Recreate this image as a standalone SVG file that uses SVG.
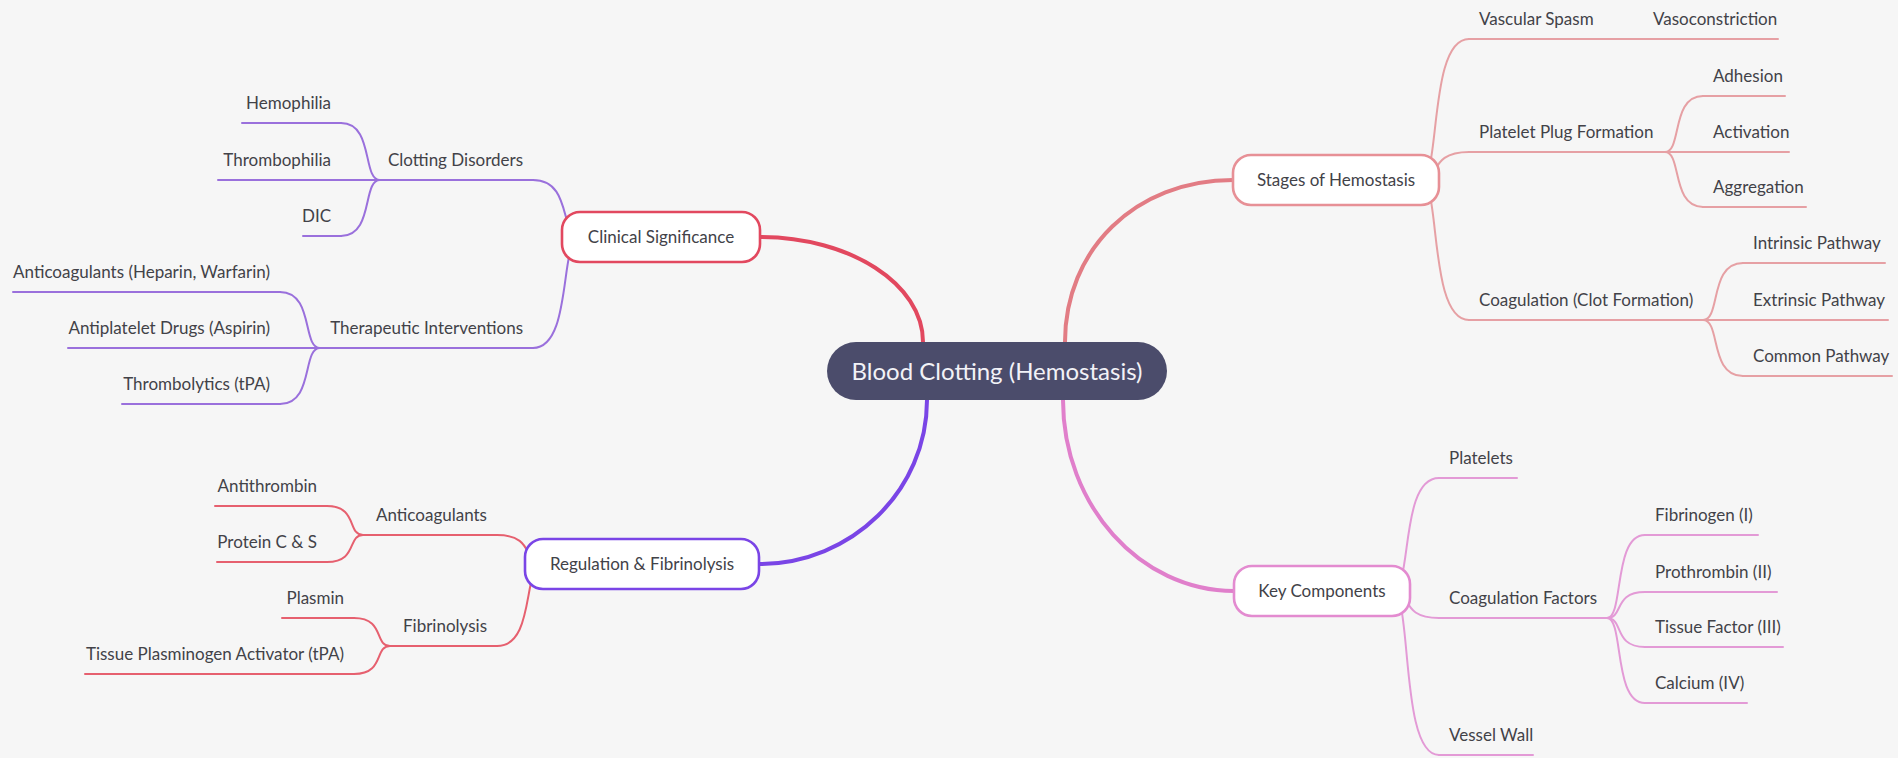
<svg xmlns="http://www.w3.org/2000/svg" width="1898" height="758" viewBox="0 0 1898 758">
<style>
.bg{fill:#f6f6f6}
.t{font-family:Lato,"Liberation Sans",sans-serif;font-size:17px;fill:#424248}
.e{text-anchor:end}
.m{text-anchor:middle}
.root{font-family:Lato,"Liberation Sans",sans-serif;font-size:24px;fill:#f2f2f7;text-anchor:middle}
.ln{fill:none;stroke-width:2;stroke-linecap:round}
.main{fill:none;stroke-width:4;stroke-linecap:round}
.box{fill:#ffffff;stroke-width:2.6}
.cs{stroke:#9a70dc}
.rf{stroke:#e6606f}
.sh{stroke:#e6a0a4}
.kc{stroke:#e39ad6}
</style>
<rect class="bg" x="0" y="0" width="1898" height="758"/>

<g id="connectors">
  <!-- root links -->
  <path class="main" stroke="#e2485f" d="M923,342 C923,284 850,237 760,237"/>
  <path class="main" stroke="#e27c84" d="M1065,342 C1065,250 1135,180 1233,180"/>
  <path class="main" stroke="#7a45e6" d="M927,400 C927,490 852,564 759,564"/>
  <path class="main" stroke="#e07fcb" d="M1063,400 C1063,505 1140,591 1234,591"/>
  <!-- Stages of Hemostasis -->
  <path class="ln sh" d="M1421,180 C1441,180 1428,39 1469,39"/>
  <path class="ln sh" d="M1421,180 C1441,180 1428,152 1469,152"/>
  <path class="ln sh" d="M1421,180 C1441,180 1428,320 1469,320"/>
  <path class="ln sh" d="M1603,39 H1643"/>
  <path class="ln sh" d="M1665,152 C1682,152 1671,96 1703,96"/>
  <path class="ln sh" d="M1665,152 H1703"/>
  <path class="ln sh" d="M1665,152 C1682,152 1671,207 1703,207"/>
  <path class="ln sh" d="M1703,320 C1721,320 1709,263 1743,263"/>
  <path class="ln sh" d="M1703,320 H1743"/>
  <path class="ln sh" d="M1703,320 C1721,320 1709,376 1743,376"/>
  <!-- Key Components -->
  <path class="ln kc" d="M1392,591 C1413,591 1399,478 1439,478"/>
  <path class="ln kc" d="M1392,591 C1413,591 1399,618 1439,618"/>
  <path class="ln kc" d="M1392,591 C1413,591 1399,755 1439,755"/>
  <path class="ln kc" d="M1607,618 C1624,618 1613,535 1645,535"/>
  <path class="ln kc" d="M1607,618 C1624,618 1613,592 1645,592"/>
  <path class="ln kc" d="M1607,618 C1624,618 1613,647 1645,647"/>
  <path class="ln kc" d="M1607,618 C1624,618 1613,703 1645,703"/>
  <!-- Clinical Significance -->
  <path class="ln cs" d="M580,237 C559,237 573,180 533,180"/>
  <path class="ln cs" d="M580,237 C559,237 573,348 533,348"/>
  <path class="ln cs" d="M380,180 C362,180 374,123 341,123"/>
  <path class="ln cs" d="M380,180 H341"/>
  <path class="ln cs" d="M380,180 C362,180 374,236 341,236"/>
  <path class="ln cs" d="M320,348 C302,348 314,292 280,292"/>
  <path class="ln cs" d="M320,348 H280"/>
  <path class="ln cs" d="M320,348 C302,348 314,404 280,404"/>
  <!-- Regulation & Fibrinolysis -->
  <path class="ln rf" d="M543,564 C522,564 536,535 497,535"/>
  <path class="ln rf" d="M543,564 C522,564 536,646 497,646"/>
  <path class="ln rf" d="M363,535 C347,535 358,506 327,506"/>
  <path class="ln rf" d="M363,535 C347,535 358,562 327,562"/>
  <path class="ln rf" d="M390,646 C374,646 385,618 354,618"/>
  <path class="ln rf" d="M390,646 C374,646 385,674 354,674"/>
</g>

<g id="root">
  <rect x="827" y="342" width="340" height="58" rx="29" fill="#4b4c6b"/>
  <text class="root" x="997" y="380">Blood Clotting (Hemostasis)</text>
</g>

<g id="stages">
  <rect class="box" stroke="#e79096" x="1233" y="155" width="206" height="50" rx="18"/>
  <text class="t m" x="1336" y="186">Stages of Hemostasis</text>
</g>
<g id="vascular-spasm">
  <path class="ln sh" d="M1469,39 H1603"/>
  <text class="t" x="1479" y="25">Vascular Spasm</text>
</g>
<g id="vasoconstriction">
  <path class="ln sh" d="M1643,39 H1778"/>
  <text class="t" x="1653" y="25">Vasoconstriction</text>
</g>
<g id="platelet-plug">
  <path class="ln sh" d="M1469,152 H1665"/>
  <text class="t" x="1479" y="138">Platelet Plug Formation</text>
</g>
<g id="adhesion">
  <path class="ln sh" d="M1703,96 H1785"/>
  <text class="t" x="1713" y="82">Adhesion</text>
</g>
<g id="activation">
  <path class="ln sh" d="M1703,152 H1789"/>
  <text class="t" x="1713" y="138">Activation</text>
</g>
<g id="aggregation">
  <path class="ln sh" d="M1703,207 H1806"/>
  <text class="t" x="1713" y="193">Aggregation</text>
</g>
<g id="coagulation">
  <path class="ln sh" d="M1469,320 H1703"/>
  <text class="t" x="1479" y="306">Coagulation (Clot Formation)</text>
</g>
<g id="intrinsic">
  <path class="ln sh" d="M1743,263 H1885"/>
  <text class="t" x="1753" y="249">Intrinsic Pathway</text>
</g>
<g id="extrinsic">
  <path class="ln sh" d="M1743,320 H1888"/>
  <text class="t" x="1753" y="306">Extrinsic Pathway</text>
</g>
<g id="common">
  <path class="ln sh" d="M1743,376 H1892"/>
  <text class="t" x="1753" y="362">Common Pathway</text>
</g>

<g id="key-components">
  <rect class="box" stroke="#e38bd0" x="1234" y="566" width="176" height="50" rx="18"/>
  <text class="t m" x="1322" y="597">Key Components</text>
</g>
<g id="platelets">
  <path class="ln kc" d="M1439,478 H1517"/>
  <text class="t" x="1449" y="464">Platelets</text>
</g>
<g id="coagulation-factors">
  <path class="ln kc" d="M1439,618 H1607"/>
  <text class="t" x="1449" y="604">Coagulation Factors</text>
</g>
<g id="fibrinogen">
  <path class="ln kc" d="M1645,535 H1758"/>
  <text class="t" x="1655" y="521">Fibrinogen (I)</text>
</g>
<g id="prothrombin">
  <path class="ln kc" d="M1645,592 H1777"/>
  <text class="t" x="1655" y="578">Prothrombin (II)</text>
</g>
<g id="tissue-factor">
  <path class="ln kc" d="M1645,647 H1783"/>
  <text class="t" x="1655" y="633">Tissue Factor (III)</text>
</g>
<g id="calcium">
  <path class="ln kc" d="M1645,703 H1747"/>
  <text class="t" x="1655" y="689">Calcium (IV)</text>
</g>
<g id="vessel-wall">
  <path class="ln kc" d="M1439,755 H1533"/>
  <text class="t" x="1449" y="741">Vessel Wall</text>
</g>

<g id="clinical">
  <rect class="box" stroke="#e2485f" x="562" y="212" width="198" height="50" rx="18"/>
  <text class="t m" x="661" y="243">Clinical Significance</text>
</g>
<g id="clotting-disorders">
  <path class="ln cs" d="M380,180 H533"/>
  <text class="t e" x="523" y="166">Clotting Disorders</text>
</g>
<g id="hemophilia">
  <path class="ln cs" d="M242,123 H341"/>
  <text class="t e" x="331" y="109">Hemophilia</text>
</g>
<g id="thrombophilia">
  <path class="ln cs" d="M218,180 H341"/>
  <text class="t e" x="331" y="166">Thrombophilia</text>
</g>
<g id="dic">
  <path class="ln cs" d="M303,236 H341"/>
  <text class="t e" x="331" y="222">DIC</text>
</g>
<g id="therapeutic">
  <path class="ln cs" d="M320,348 H533"/>
  <text class="t e" x="523" y="334">Therapeutic Interventions</text>
</g>
<g id="anticoag-drugs">
  <path class="ln cs" d="M13,292 H280"/>
  <text class="t e" x="270" y="278">Anticoagulants (Heparin, Warfarin)</text>
</g>
<g id="antiplatelet">
  <path class="ln cs" d="M68,348 H280"/>
  <text class="t e" x="270" y="334">Antiplatelet Drugs (Aspirin)</text>
</g>
<g id="thrombolytics">
  <path class="ln cs" d="M122,404 H280"/>
  <text class="t e" x="270" y="390">Thrombolytics (tPA)</text>
</g>

<g id="regulation">
  <rect class="box" stroke="#7a45e6" x="525" y="539" width="234" height="50" rx="18"/>
  <text class="t m" x="642" y="570">Regulation &amp; Fibrinolysis</text>
</g>
<g id="anticoagulants">
  <path class="ln rf" d="M363,535 H497"/>
  <text class="t e" x="487" y="521">Anticoagulants</text>
</g>
<g id="antithrombin">
  <path class="ln rf" d="M215,506 H327"/>
  <text class="t e" x="317" y="492">Antithrombin</text>
</g>
<g id="protein-cs">
  <path class="ln rf" d="M217,562 H327"/>
  <text class="t e" x="317" y="548">Protein C &amp; S</text>
</g>
<g id="fibrinolysis">
  <path class="ln rf" d="M390,646 H497"/>
  <text class="t e" x="487" y="632">Fibrinolysis</text>
</g>
<g id="plasmin">
  <path class="ln rf" d="M282,618 H354"/>
  <text class="t e" x="344" y="604">Plasmin</text>
</g>
<g id="tpa">
  <path class="ln rf" d="M85,674 H354"/>
  <text class="t e" x="344" y="660">Tissue Plasminogen Activator (tPA)</text>
</g>
</svg>
